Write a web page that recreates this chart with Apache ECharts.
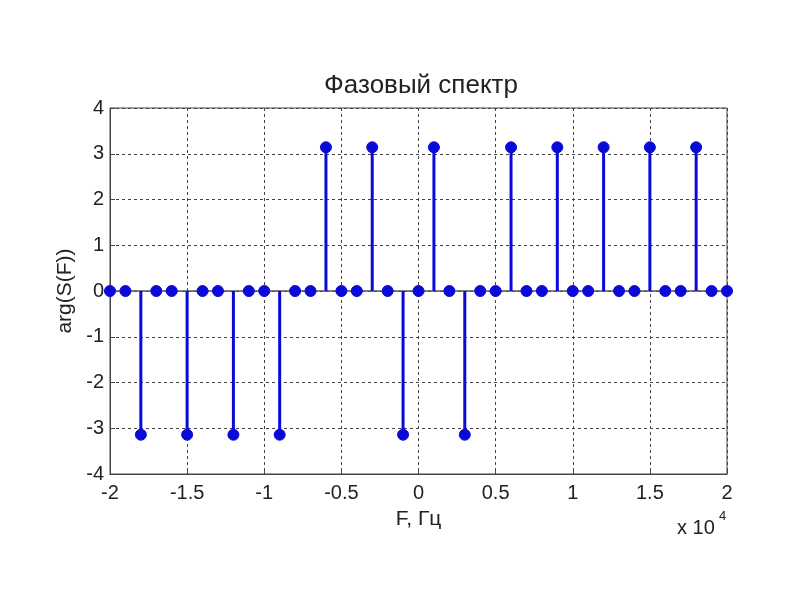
<!DOCTYPE html>
<html>
<head>
<meta charset="utf-8">
<script src="https://cdn.jsdelivr.net/npm/echarts@6/dist/echarts.min.js"></script>
<style>
html,body{margin:0;padding:0;background:#fff;}
#chart{width:800px;height:600px;}
</style>
</head>
<body>
<div id="chart"></div>
<script>
// Frequencies, Hz
var freqs = [-20000,-19000,-18000,-17000,-16000,-15000,-14000,-13000,-12000,-11000,
             -10000,-9000,-8000,-7000,-6000,-5000,-4000,-3000,-2000,-1000,
             0,1000,2000,3000,4000,5000,6000,7000,8000,9000,
             10000,11000,12000,13000,14000,15000,16000,17000,18000,19000,20000];
// Phase values, rad
var phases = [0,0,-3.1416,0,0,-3.1416,0,0,-3.1416,0,
              0,-3.1416,0,0,3.1416,0,0,3.1416,0,-3.1416,
              0,3.1416,0,-3.1416,0,0,3.1416,0,0,3.1416,
              0,0,3.1416,0,0,3.1416,0,0,3.1416,0,0];
var titleText = 'Фазовый спектр';
var xName = 'F, Гц';
var yName = 'arg(S(F))';

var stemData = freqs.map(function (f, i) { return [f, phases[i]]; });

var font = 'Liberation Sans, Arial, sans-serif';
var blue = '#0a0ad8';

var chart = echarts.init(document.getElementById('chart'));
chart.setOption({
  backgroundColor: '#ffffff',
  animation: false,
  title: {
    text: titleText,
    left: 416, top: 68, textAlign: 'center',
    textStyle: { fontFamily: font, fontSize: 26, fontWeight: 'normal', color: '#222' }
  },
  grid: {
    left: 110, right: 73, top: 108, bottom: 126,
    show: true, borderColor: '#444', borderWidth: 1, backgroundColor: '#fff'
  },
  xAxis: {
    type: 'value', min: -20000, max: 20000, interval: 5000,
    name: xName, nameLocation: 'middle', nameGap: 35,
    nameTextStyle: { fontFamily: font, fontSize: 21, color: '#222' },
    axisLine: { show: true, onZero: false, lineStyle: { color: '#444', width: 1 } },
    axisTick: { show: true, inside: true, length: 5, lineStyle: { color: '#444' } },
    axisLabel: {
      fontFamily: font, fontSize: 20, color: '#222', margin: 9,
      formatter: function (v) { return String(Math.round(v / 1000) / 10); }
    },
    splitLine: { show: true, lineStyle: { color: '#444', type: [3, 3], width: 1 } }
  },
  yAxis: {
    type: 'value', min: -4, max: 4, interval: 1,
    name: yName, nameLocation: 'middle', nameGap: 30,
    nameTextStyle: { fontFamily: font, fontSize: 21, color: '#222' },
    axisLine: { show: true, onZero: false, lineStyle: { color: '#444', width: 1 } },
    axisTick: { show: true, inside: true, length: 5, lineStyle: { color: '#444' } },
    axisLabel: { fontFamily: font, fontSize: 20, color: '#222', margin: 6 },
    splitLine: { show: true, lineStyle: { color: '#444', type: [3, 3], width: 1 } }
  },
  graphic: [
    { type: 'text', left: 677, top: 518, style: { text: 'x 10', font: '20px ' + font, fill: '#222' } },
    { type: 'text', left: 719, top: 510, style: { text: '4', font: '13px ' + font, fill: '#222' } }
  ],
  series: [{
    type: 'custom',
    data: stemData,
    clip: false,
    z: 5,
    renderItem: function (params, api) {
      var p0 = api.coord([api.value(0), 0]);
      var p1 = api.coord([api.value(0), api.value(1)]);
      return {
        type: 'group',
        children: [
          { type: 'line', shape: { x1: p0[0], y1: p0[1], x2: p1[0], y2: p1[1] },
            style: { stroke: blue, lineWidth: 3 } },
          { type: 'circle', shape: { cx: p1[0], cy: p1[1], r: 5.5 },
            style: { fill: blue, stroke: blue, lineWidth: 1 } }
        ]
      };
    }
  }, {
    type: 'line',
    data: [[-20000, 0], [20000, 0]],
    symbol: 'none',
    z: 4,
    lineStyle: { color: '#555', width: 1.5 }
  }]
});
</script>
</body>
</html>
